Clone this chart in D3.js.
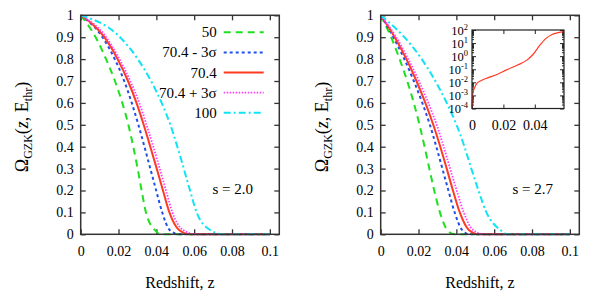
<!DOCTYPE html>
<html><head><meta charset="utf-8">
<script src="https://cdn.jsdelivr.net/npm/d3@7"></script>
<style>body{margin:0;background:#fff}svg{display:block}text{font-family:"Liberation Serif","DejaVu Serif",serif;fill:#000}</style>
</head><body><svg id="c" width="599" height="300"></svg>
<script>
// ---- data ----
const xTicks = [0, 0.02, 0.04, 0.06, 0.08, 0.1];
const yTicks = [0, 0.1, 0.2, 0.3, 0.4, 0.5, 0.6, 0.7, 0.8, 0.9, 1];
const seriesNames = ["50", "70.4 - 3σ", "70.4", "70.4 + 3σ", "100"];
const seriesColors = ["#1fe01f", "#1f4fe8", "#ff3a22", "#ff3cff", "#10e4f4"];
const seriesDash = ["7,5", "3,3", null, "1.5,1.5", "7,3,2,3"];
// Omega values at which the curve z positions were read
const omegaLevels = [1, 0.9, 0.8, 0.7, 0.6, 0.5, 0.4, 0.3, 0.2, 0.1, 0.02, 0, 0];
// s = 2.0 (left)
const zS20_50    = [0, 0.0079, 0.0134, 0.0181, 0.0220, 0.0252, 0.0278, 0.0301, 0.0322, 0.0345, 0.0392, 0.042, 0.1];
const zS20_minus = [0, 0.0115, 0.0180, 0.0230, 0.0270, 0.0305, 0.0337, 0.0368, 0.0399, 0.0431, 0.0470, 0.052, 0.1];
const zS20_mid   = [0, 0.0125, 0.0195, 0.0250, 0.0295, 0.0333, 0.0368, 0.0402, 0.0435, 0.0469, 0.0520, 0.058, 0.1];
const zS20_plus  = [0, 0.0135, 0.0205, 0.0262, 0.0310, 0.0348, 0.0384, 0.0418, 0.0451, 0.0485, 0.0540, 0.061, 0.1];
const zS20_100   = [0, 0.0208, 0.0302, 0.0372, 0.0428, 0.0474, 0.0511, 0.0545, 0.0578, 0.0613, 0.0684, 0.075, 0.1];
// s = 2.7 (right)
const zS27_50    = [0, 0.0055, 0.0100, 0.0140, 0.0175, 0.0205, 0.0232, 0.0257, 0.0283, 0.0313, 0.0352, 0.039, 0.1];
const zS27_minus = [0, 0.0067, 0.0125, 0.0175, 0.0220, 0.0260, 0.0294, 0.0326, 0.0358, 0.0391, 0.0430, 0.047, 0.1];
const zS27_mid   = [0, 0.0074, 0.0136, 0.0189, 0.0236, 0.0278, 0.0315, 0.0349, 0.0382, 0.0418, 0.0466, 0.052, 0.1];
const zS27_plus  = [0, 0.0082, 0.0146, 0.0202, 0.0252, 0.0296, 0.0333, 0.0367, 0.0402, 0.0439, 0.0488, 0.055, 0.1];
const zS27_100   = [0, 0.0125, 0.0217, 0.0289, 0.0349, 0.0401, 0.0443, 0.0479, 0.0517, 0.0559, 0.0632, 0.067, 0.1];
// inset (log scale)
const insetZ = [0, 0.0006, 0.0015, 0.003, 0.006, 0.010, 0.016, 0.022, 0.029, 0.035, 0.039, 0.043, 0.047, 0.051, 0.055, 0.0585];
const insetV = [1e-4, 1.6e-3, 3.5e-3, 7.9e-3, 1.4e-2, 2.2e-2, 4.0e-2, 8.9e-2, 0.21, 0.5, 1.4, 6.3, 22, 45, 63, 76];
const insetXTicks = [0, 0.02, 0.04];
const insetYTicks = [-4, -3, -2, -1, 0, 1, 2];

const svg = d3.select("#c");
const yTop = 15.3, yBot = 234.3;

const panels = [
  {x0: 80.7, x1: 279.3, zs: [zS20_50, zS20_minus, zS20_mid, zS20_plus, zS20_100], note: "s = 2.0", legend: true, inset: false},
  {x0: 380.7, x1: 579.3, zs: [zS27_50, zS27_minus, zS27_mid, zS27_plus, zS27_100], note: "s = 2.7", legend: false, inset: true}
];

function styleAxis(a, col, w, fs) {
  a.select(".domain").remove();
  a.selectAll(".tick line").attr("stroke", col).attr("stroke-width", w);
  a.selectAll("text").attr("font-size", fs).attr("font-family", "Liberation Serif").attr("fill", "#000");
}

panels.forEach(p => {
  const x = d3.scaleLinear().domain([0, 0.105]).range([p.x0, p.x1]);
  const y = d3.scaleLinear().domain([0, 1]).range([yBot, yTop]);
  const g = svg.append("g");

  const fmt = d => String(d);
  styleAxis(g.append("g").attr("transform", `translate(0,${yBot})`)
    .call(d3.axisBottom(x).tickValues(xTicks).tickSize(-5).tickPadding(12).tickFormat(fmt)), "#333", 1.3, 14);
  styleAxis(g.append("g").attr("transform", `translate(0,${yTop})`)
    .call(d3.axisTop(x).tickValues(xTicks).tickSize(-5).tickFormat("")), "#333", 1.3, 14);
  styleAxis(g.append("g").attr("transform", `translate(${p.x0},0)`)
    .call(d3.axisLeft(y).tickValues(yTicks).tickSize(-5).tickPadding(7).tickFormat(fmt)), "#333", 1.3, 14);
  styleAxis(g.append("g").attr("transform", `translate(${p.x1},0)`)
    .call(d3.axisRight(y).tickValues(yTicks).tickSize(-5).tickFormat("")), "#333", 1.3, 14);

  // curves
  const line = d3.line().x(d => x(d[0])).y(d => y(d[1])).curve(d3.curveMonotoneX);
  p.zs.forEach((zs, i) => {
    const pts = zs.map((z, k) => [z, omegaLevels[k]]);
    g.append("path").attr("d", line(pts)).attr("fill", "none")
      .attr("stroke", seriesColors[i]).attr("stroke-width", i === 3 ? 1.8 : 2)
      .attr("stroke-dasharray", seriesDash[i]);
  });

  // frame
  g.append("rect").attr("x", p.x0).attr("y", yTop).attr("width", p.x1 - p.x0).attr("height", yBot - yTop)
    .attr("fill", "none").attr("stroke", "#333").attr("stroke-width", 1.5);

  // note
  g.append("text").attr("x", p.x0 + 152).attr("y", 194).attr("text-anchor", "middle")
    .attr("font-size", 15).text(p.note);

  // axis titles
  g.append("text").attr("x", (p.x0 + p.x1) / 2).attr("y", 288).attr("text-anchor", "middle")
    .attr("font-size", 16).text("Redshift, z");
  const yl = g.append("text").attr("transform", `translate(${p.x0 - 53},127) rotate(-90)`)
    .attr("text-anchor", "middle").attr("font-size", 18);
  yl.append("tspan").text("Ω");
  yl.append("tspan").attr("font-size", 12).attr("dy", 4).text("GZK");
  yl.append("tspan").attr("dy", -4).text("(");
  yl.append("tspan").attr("font-style", "italic").text("z");
  yl.append("tspan").text(", E");
  yl.append("tspan").attr("font-size", 12).attr("dy", 4).text("thr");
  yl.append("tspan").attr("dy", -4).text(")");

  // legend
  if (p.legend) {
    seriesNames.forEach((n, i) => {
      const ry = 32.3 + i * 20.1;
      g.append("text").attr("x", p.x0 + 136).attr("y", ry + 5).attr("text-anchor", "end")
        .attr("font-size", 15).text(n);
      g.append("line").attr("x1", p.x0 + 143).attr("x2", p.x0 + 183).attr("y1", ry).attr("y2", ry)
        .attr("stroke", seriesColors[i]).attr("stroke-width", i === 3 ? 1.8 : 2)
        .attr("stroke-dasharray", seriesDash[i]);
    });
  }

  // inset
  if (p.inset) {
    const ix0 = 472, ix1 = 564, iy0 = 30, iy1 = 108.5;
    const ixs = d3.scaleLinear().domain([0, 0.0586]).range([ix0, ix1]);
    const iys = d3.scaleLog().domain([1e-4, 1e2]).range([iy1, iy0]);
    const ig = g.append("g");
    ig.append("rect").attr("x", ix0).attr("y", iy0).attr("width", ix1 - ix0).attr("height", iy1 - iy0)
      .attr("fill", "#fff").attr("stroke", "none");
    const minor = [];
    insetYTicks.forEach(e => { if (e < 2) for (let m = 2; m <= 9; m++) minor.push(m * Math.pow(10, e)); });
    const majors = insetYTicks.map(e => Math.pow(10, e));
    styleAxis(ig.append("g").attr("transform", `translate(${ix0},0)`)
      .call(d3.axisLeft(iys).tickValues(majors).tickSize(-4).tickFormat("")), "#222", 1, 13);
    styleAxis(ig.append("g").attr("transform", `translate(${ix1},0)`)
      .call(d3.axisRight(iys).tickValues(majors).tickSize(-4).tickFormat("")), "#222", 1, 13);
    styleAxis(ig.append("g").attr("transform", `translate(${ix0},0)`)
      .call(d3.axisLeft(iys).tickValues(minor).tickSize(-2).tickFormat("")), "#222", 1, 13);
    styleAxis(ig.append("g").attr("transform", `translate(${ix1},0)`)
      .call(d3.axisRight(iys).tickValues(minor).tickSize(-2).tickFormat("")), "#222", 1, 13);
    styleAxis(ig.append("g").attr("transform", `translate(0,${iy1})`)
      .call(d3.axisBottom(ixs).tickValues(insetXTicks).tickSize(-4).tickPadding(12).tickFormat(d => String(d))), "#222", 1, 14);
    styleAxis(ig.append("g").attr("transform", `translate(0,${iy0})`)
      .call(d3.axisTop(ixs).tickValues(insetXTicks).tickSize(-4).tickFormat("")), "#222", 1, 13);
    insetYTicks.forEach(e => {
      const t = ig.append("text").attr("x", ix0 - 4).attr("y", iys(Math.pow(10, e)) + 4.5)
        .attr("text-anchor", "end").attr("font-size", 12.5);
      t.append("tspan").text("10");
      t.append("tspan").attr("font-size", 8.5).attr("dy", -5).text(String(e));
    });
    const iline = d3.line().x((d, k) => ixs(insetZ[k])).y(d => iys(d)).curve(d3.curveMonotoneX);
    ig.append("path").attr("d", iline(insetV)).attr("fill", "none").attr("stroke", "#ff3a22").attr("stroke-width", 1.2);
    ig.append("rect").attr("x", ix0).attr("y", iy0).attr("width", ix1 - ix0).attr("height", iy1 - iy0)
      .attr("fill", "none").attr("stroke", "#222").attr("stroke-width", 1.2);
  }
});
</script></body></html>
